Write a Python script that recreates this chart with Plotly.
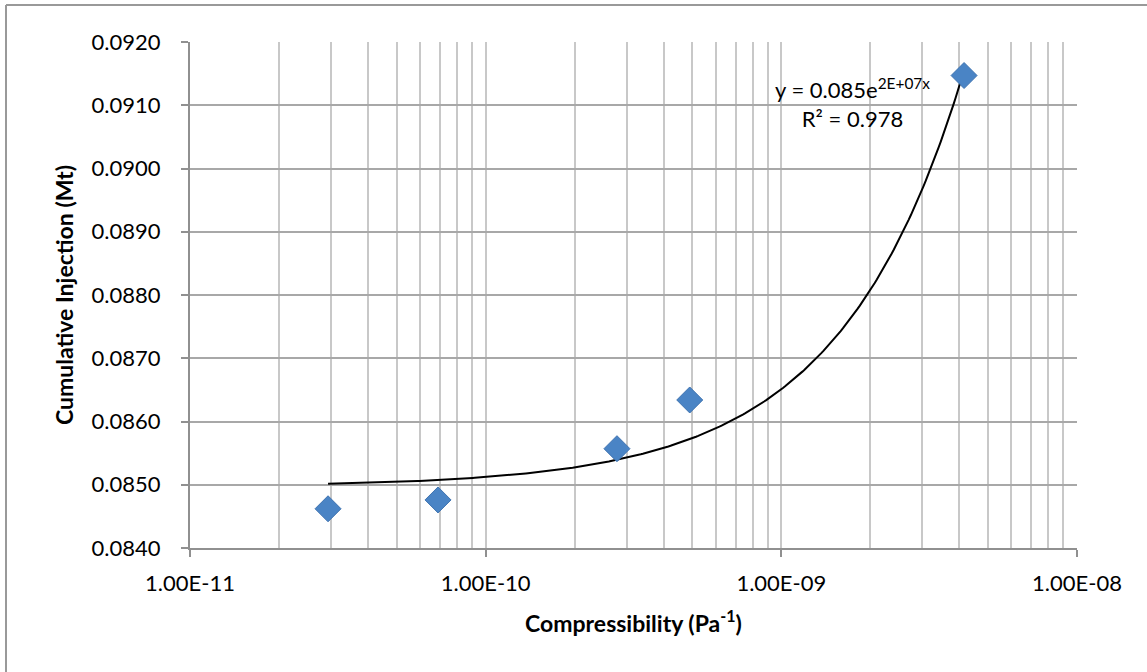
import numpy as np
import plotly.graph_objects as go

# Data
compressibility = [2.93e-11, 6.9e-11, 2.78e-10, 4.9e-10, 4.15e-9]
cum_injection = [0.08462, 0.08476, 0.08557, 0.08634, 0.09147]

x_tickvals = [1e-11, 1e-10, 1e-9, 1e-8]
x_ticktext = ["1.00E-11", "1.00E-10", "1.00E-09", "1.00E-08"]
x_minor = [m * d for d in [1e-11, 1e-10, 1e-9] for m in range(2, 10)]

# Exponential trendline (least squares on ln y, as Excel does)
b, ln_a = np.polyfit(np.array(compressibility), np.log(cum_injection), 1)
xt = np.logspace(np.log10(compressibility[0]), np.log10(compressibility[-1]), 300)
yt = np.exp(ln_a) * np.exp(b * xt)

FONT = "Lato"
fig = go.Figure()
fig.add_trace(go.Scatter(x=xt, y=yt, mode="lines",
                         line=dict(color="black", width=2), hoverinfo="skip",
                         showlegend=False))
fig.add_trace(go.Scatter(x=compressibility, y=cum_injection, mode="markers",
                         marker=dict(symbol="diamond", size=20, color="#4A84C5",
                                     line=dict(color="#3F73B0", width=1)),
                         showlegend=False))

fig.update_layout(
    width=1147, height=672,
    margin=dict(l=190, r=70, t=42, b=124),
    paper_bgcolor="white", plot_bgcolor="white",
    font=dict(family=FONT, size=22, color="black"),
    xaxis=dict(type="log", range=[-11, -8],
               tickvals=x_tickvals, ticktext=x_ticktext,
               tickfont=dict(size=22),
               ticks="outside", ticklen=7, tickcolor="#909090", tickwidth=2,
               showgrid=True, gridcolor="#C8C8C8", gridwidth=2,
               minor=dict(tickvals=x_minor, showgrid=True, gridcolor="#C8C8C8",
                          gridwidth=2, ticks=""),
               showline=True, linecolor="#909090", linewidth=2,
               zeroline=False, ticklabelstandoff=8,
               title=dict(text="<b>Compressibility (Pa<sup>-1</sup>)</b>",
                          font=dict(family=FONT, size=23), standoff=20)),
    yaxis=dict(range=[0.084, 0.092], dtick=0.001, tick0=0.084,
               tickformat=".4f", tickfont=dict(size=22),
               ticks="outside", ticklen=7, tickcolor="#909090", tickwidth=2,
               showgrid=True, gridcolor="#A8A8A8", gridwidth=2,
               showline=True, linecolor="#909090", linewidth=2,
               zeroline=False, ticklabelstandoff=16,
               title=dict(text="<b>Cumulative Injection (Mt)</b>",
                          font=dict(family=FONT, size=23), standoff=12)),
    annotations=[dict(xref="paper", yref="paper", x=0.747, y=0.94,
                      xanchor="center", yanchor="top", showarrow=False,
                      align="center",
                      text="y = 0.085e<sup>2E+07x</sup><br>R² = 0.978",
                      font=dict(family=FONT, size=22))],
    shapes=[
        dict(type="line", xref="paper", yref="paper",
             x0=(6 - 190) / 887, x1=1.2, y0=1 + 37 / 506, y1=1 + 37 / 506,
             line=dict(color="#999999", width=2)),
        dict(type="line", xref="paper", yref="paper",
             x0=(6 - 190) / 887, x1=(6 - 190) / 887, y0=1 + 37 / 506, y1=-0.3,
             line=dict(color="#999999", width=2)),
    ],
)

fig.write_html("out.html")
